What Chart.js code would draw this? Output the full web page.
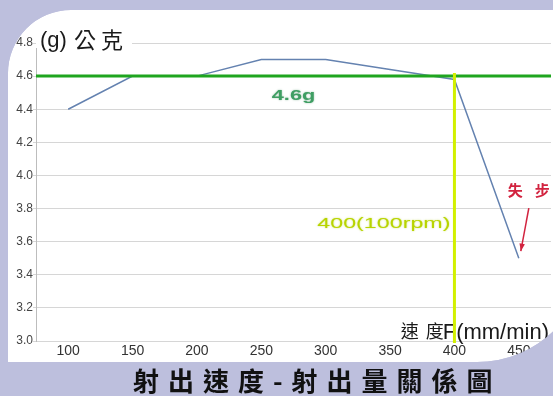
<!DOCTYPE html>
<html>
<head>
<meta charset="utf-8">
<script src="https://cdn.jsdelivr.net/npm/chart.js@4.4.0/dist/chart.umd.min.js"></script>
<style>
  html, body { margin: 0; padding: 0; background: #bdbfdd; }
  #wrap { width: 553px; height: 396px; }
</style>
</head>
<body>
<div id="wrap"><canvas id="c" width="553" height="396"></canvas></div>
<script>
// Injection speed F (mm/min) and shot weight (g)
const speeds = ['100', '150', '200', '250', '300', '350', '400', '450'];
const weights = [4.4, 4.6, 4.6, 4.7, 4.7, 4.64, 4.58, 3.5];
const yTicks = [3.0, 3.2, 3.4, 3.6, 3.8, 4.0, 4.2, 4.4, 4.6, 4.8];
const targetWeight = 4.6;       // horizontal reference line
const limitSpeed = '400';       // vertical reference line
const stallSpeed = '450';       // point marked as lost step

const LAVENDER = '#bdbfdd';

// White slide panel: rounded top-left, swooping bottom-right
function panelPath(ctx) {
  ctx.moveTo(8, 73);
  ctx.arc(71, 73, 63, Math.PI, 1.5 * Math.PI);
  ctx.lineTo(600, 10);
  ctx.lineTo(600, 252);
  ctx.lineTo(587, 252);
  ctx.arc(477, 252, 110, 0, Math.PI / 2);
  ctx.lineTo(8, 362);
  ctx.closePath();
}

const slidePlugin = {
  id: 'slide',
  beforeDraw(chart) {
    const ctx = chart.ctx;
    ctx.save();
    ctx.fillStyle = LAVENDER;
    ctx.fillRect(0, 0, chart.width, chart.height);
    ctx.beginPath();
    panelPath(ctx);
    ctx.fillStyle = '#ffffff';
    ctx.fill();
    ctx.restore();
  },
  afterDatasetsDraw(chart) {
    const ctx = chart.ctx;
    const xs = chart.scales.x, ys = chart.scales.y;
    const area = chart.chartArea;
    ctx.save();

    // axis titles
    ctx.fillStyle = '#ffffff';
    ctx.fillRect(36, 28, 96, 20);
    ctx.fillStyle = '#1a1a1a';
    ctx.textBaseline = 'middle';
    ctx.textAlign = 'left';
    ctx.font = '22px Arial, "Liberation Sans", sans-serif';
    ctx.fillText('(g)', 40, 41);
    ctx.font = '22px "Noto Sans CJK TC", sans-serif';
    ctx.letterSpacing = '5px';
    ctx.fillText('公克', 74, 40);
    ctx.letterSpacing = '0px';

    ctx.textAlign = 'right';
    ctx.textBaseline = 'alphabetic';
    ctx.font = '22px Arial, "Liberation Sans", sans-serif';
    ctx.fillText('F(mm/min)', 549, 339);
    const fw = ctx.measureText('F(mm/min)').width;
    ctx.font = '18px "Noto Sans CJK TC", sans-serif';
    ctx.letterSpacing = '7px';
    ctx.fillText('速度', 549 - fw + 8, 338);
    ctx.letterSpacing = '0px';

    // target weight line
    const yT = ys.getPixelForValue(targetWeight);
    ctx.strokeStyle = '#1fa51f';
    ctx.lineWidth = 3;
    ctx.beginPath();
    ctx.moveTo(area.left, yT);
    ctx.lineTo(area.right, yT);
    ctx.stroke();

    // speed limit line
    const xL = xs.getPixelForValue(speeds.indexOf(limitSpeed));
    ctx.strokeStyle = '#d2f000';
    ctx.lineWidth = 3;
    ctx.beginPath();
    ctx.moveTo(xL, yT - 3);
    ctx.lineTo(xL, area.bottom + 2);
    ctx.stroke();

    // labels for the reference lines (wide lettering)
    const midX = (xs.getPixelForValue(3) + xs.getPixelForValue(4)) / 2;
    ctx.save();
    ctx.translate(midX, yT + 20);
    ctx.scale(1.45, 1);
    ctx.textAlign = 'center';
    ctx.textBaseline = 'middle';
    ctx.font = 'bold 15px Arial, "Liberation Sans", sans-serif';
    ctx.shadowColor = 'rgba(40,120,70,0.45)';
    ctx.shadowBlur = 2;
    ctx.fillStyle = '#3f9e63';
    ctx.fillText('4.6g', 0, 0);
    ctx.restore();

    ctx.save();
    ctx.translate(xL - 4, ys.getPixelForValue(3.71));
    ctx.scale(1.55, 1);
    ctx.textAlign = 'right';
    ctx.textBaseline = 'middle';
    ctx.font = '15px Arial, "Liberation Sans", sans-serif';
    ctx.shadowColor = 'rgba(170,200,0,0.6)';
    ctx.shadowBlur = 2;
    ctx.fillStyle = '#b8d400';
    ctx.fillText('400(100rpm)', 0, 0);
    ctx.restore();

    // lost-step note with arrow pointing at the last point
    const si = speeds.indexOf(stallSpeed);
    const px = xs.getPixelForValue(si);
    const py = ys.getPixelForValue(weights[si]);
    ctx.fillStyle = '#d2233f';
    ctx.font = 'bold 15px "Noto Sans CJK TC", serif';
    ctx.textAlign = 'left';
    ctx.textBaseline = 'middle';
    ctx.letterSpacing = '12px';
    ctx.fillText('失步', px - 11, py - 68);
    ctx.letterSpacing = '0px';

    const ax0 = px + 10, ay0 = py - 50, ax1 = px + 2, ay1 = py - 7;
    ctx.strokeStyle = '#d2233f';
    ctx.lineWidth = 1.5;
    ctx.beginPath();
    ctx.moveTo(ax0, ay0);
    ctx.lineTo(ax1, ay1);
    ctx.stroke();
    const ang = Math.atan2(ay1 - ay0, ax1 - ax0);
    ctx.beginPath();
    ctx.moveTo(ax1, ay1);
    ctx.lineTo(ax1 - 8 * Math.cos(ang - 0.35), ay1 - 8 * Math.sin(ang - 0.35));
    ctx.lineTo(ax1 - 8 * Math.cos(ang + 0.35), ay1 - 8 * Math.sin(ang + 0.35));
    ctx.closePath();
    ctx.fill();

    ctx.restore();
  },
  afterDraw(chart) {
    const ctx = chart.ctx;
    ctx.save();
    // mask anything that spills outside the panel
    ctx.beginPath();
    ctx.rect(0, 0, chart.width, chart.height);
    panelPath(ctx);
    ctx.fillStyle = LAVENDER;
    ctx.fill('evenodd');

    // slide caption
    ctx.fillStyle = '#111111';
    ctx.font = 'bold 26px "Noto Sans CJK TC", sans-serif';
    ctx.textAlign = 'left';
    ctx.textBaseline = 'middle';
    ctx.letterSpacing = '9px';
    ctx.fillText('射出速度-射出量關係圖', 133, 381);
    ctx.letterSpacing = '0px';
    ctx.restore();
  }
};

new Chart(document.getElementById('c'), {
  type: 'line',
  data: {
    labels: speeds,
    datasets: [{
      data: weights,
      borderColor: '#6482b0',
      borderWidth: 1.5,
      pointRadius: 0,
      tension: 0,
      fill: false
    }]
  },
  options: {
    responsive: false,
    animation: false,
    devicePixelRatio: 1,
    layout: { padding: { top: 43, right: 2, left: 0, bottom: 0 } },
    plugins: { legend: { display: false }, tooltip: { enabled: false } },
    scales: {
      x: {
        offset: true,
        grid: { display: false, drawTicks: false },
        border: { display: false },
        ticks: {
          padding: 2,
          color: '#333333',
          font: { family: 'Arial, "Liberation Sans", sans-serif', size: 14 },
          maxRotation: 0,
          autoSkip: false
        },
        afterFit(scale) { scale.height = 55; }
      },
      y: {
        min: 3.0,
        max: 4.8,
        afterBuildTicks(scale) { scale.ticks = yTicks.map(v => ({ value: v })); },
        grid: { color: '#d6d6d6', lineWidth: 1, tickLength: 3 },
        border: { color: '#bdbdbd' },
        ticks: {
          padding: 0,
          color: '#444444',
          font: { family: 'Arial, "Liberation Sans", sans-serif', size: 12 },
          callback: v => Number(v).toFixed(1)
        },
        afterFit(scale) { scale.width = 36; }
      }
    }
  },
  plugins: [slidePlugin]
});
</script>
</body>
</html>
